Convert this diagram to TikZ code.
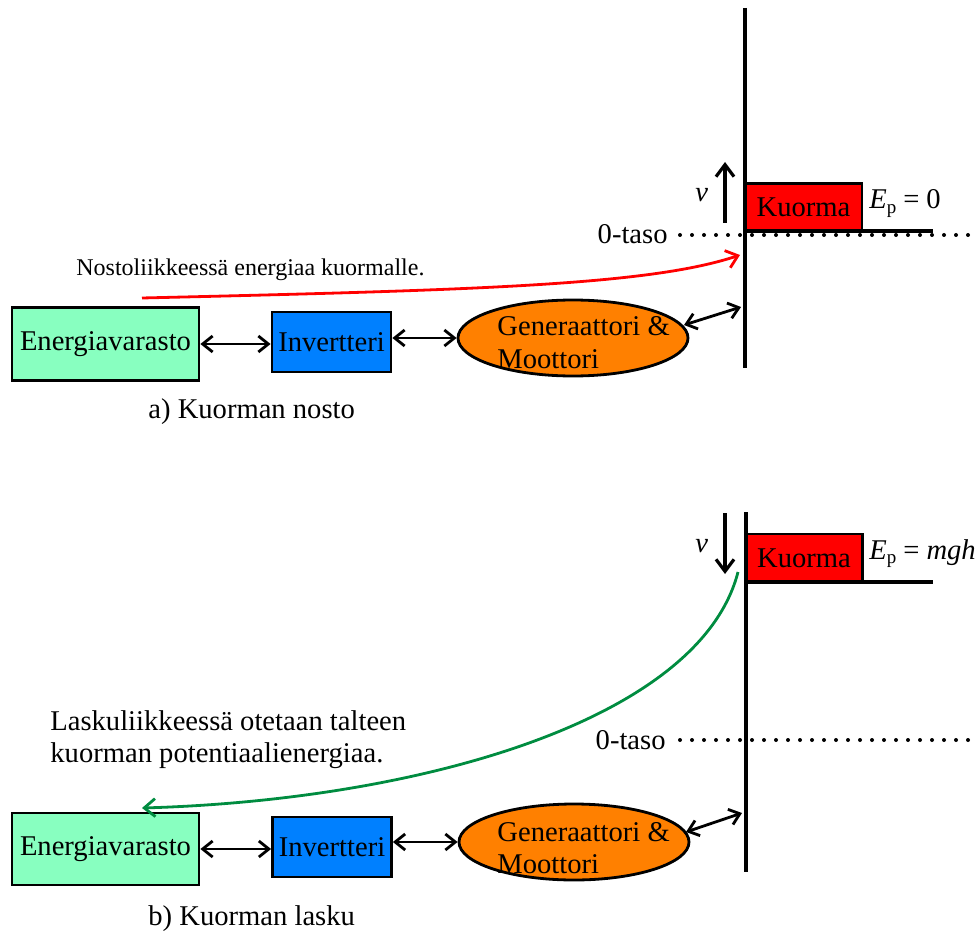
\documentclass[tikz,border=0pt]{standalone}
\usepackage{fontspec}
\setmainfont{Liberation Serif}
\usetikzlibrary{arrows.meta,shapes.geometric}
\definecolor{storegreen}{RGB}{136,255,192}
\definecolor{invblue}{RGB}{0,128,255}
\definecolor{genorange}{RGB}{255,128,0}
\definecolor{loadred}{RGB}{255,0,0}
\definecolor{recgreen}{RGB}{0,140,64}
\begin{document}
\begin{tikzpicture}[x=0.5pt,y=-0.5pt,
  bigfont/.style={font=\fontsize{14.3}{17}\selectfont},
  smallfont/.style={font=\fontsize{12}{14}\selectfont},
  box/.style={draw=black,line width=1.4pt,inner sep=0pt,bigfont},
  genbox/.style={ellipse,draw=black,line width=1.4pt,fill=genorange,
    minimum width=115pt,minimum height=38pt,inner sep=0pt},
  link/.style={line width=1.4pt,{Straight Barb[length=5pt,width=8pt]}-{Straight Barb[length=5pt,width=8pt]}},
  shaft/.style={line width=1.7pt},
  ground/.style={line width=1.7pt},
  dotline/.style={line width=2pt,dash pattern=on 0pt off 6pt,line cap=round},
  txt/.style={bigfont,inner sep=0pt,anchor=base west},
  speed/.style={line width=1.6pt,-{Straight Barb[length=6pt,width=9pt]}},
  flow/.style={line width=1.4pt,-{Straight Barb[length=5.5pt,width=9pt]}}
]
\useasboundingbox (0,0) rectangle (979,936);

% ---------------- a) lifting ----------------
\draw[dotline] (680,235) -- (979,235);
\node[txt,anchor=base east] (zeroA) at (668,243) {0-taso};
\node[box,fill=loadred,minimum width=58.5pt,minimum height=24pt] (loadA) at (803.5,207.5) {Kuorma};
\draw[ground] (745,231) -- (933,231);
\coordinate (shaftTopA) at (745,8);
\coordinate (shaftBotA) at (745,368);
\draw[shaft] (shaftTopA) -- (shaftBotA);
\coordinate (vA1) at (725,223);
\coordinate (vA2) at (725,162);
\draw[speed] (vA1) -- (vA2);
\node[txt,font=\fontsize{14.3}{17}\selectfont\itshape] (vlabA) at (695,202) {v};
\node[txt] (epA) at (869,209) {\textit{E}\raisebox{-0.35ex}{\fontsize{9.5}{10}\selectfont p}\hspace{3.5pt}=\hspace{3.5pt}0};

\node[txt,smallfont] (noteA) at (76,276) {Nostoliikkeessä energiaa kuormalle.};

\node[box,fill=storegreen,minimum width=93.5pt,minimum height=36.5pt] (storeA) at (105.5,344) {Energiavarasto};
\node[box,fill=invblue,minimum width=59.5pt,minimum height=30pt] (invA) at (331.5,342) {Invertteri};
\node[genbox] (genA) at (573,338) {};
\node[txt] (genTxtA1) at (497,335) {Generaattori \&};
\node[txt] (genTxtA2) at (497,368) {Moottori};
\coordinate (shaftHitA) at (741,307);

\draw[link] (storeA.east) -- (invA.west |- storeA.east);
\draw[link] (invA.east |- genA.west) -- (genA.west);
\draw[link] (684,325) -- (shaftHitA);

\coordinate (redStart) at (142,298);
\coordinate (redEnd) at (740,255);
\draw[flow,draw=loadred] (redStart) .. controls (480,290) and (650,285) .. (redEnd);

\node[txt] (capA) at (148,418) {a) Kuorman nosto};

% ---------------- b) lowering ----------------
\draw[dotline] (680,740) -- (979,740);
\node[txt,anchor=base east] (zeroB) at (666,749) {0-taso};
\node[box,fill=loadred,minimum width=58.5pt,minimum height=24pt] (loadB) at (804,558) {Kuorma};
\draw[ground] (746,582) -- (933,582);
\coordinate (shaftTopB) at (746,512);
\coordinate (shaftBotB) at (746,872);
\draw[shaft] (shaftTopB) -- (shaftBotB);
\coordinate (vB1) at (725,513);
\coordinate (vB2) at (725,574);
\draw[speed] (vB1) -- (vB2);
\node[txt,font=\fontsize{14.3}{17}\selectfont\itshape] (vlabB) at (695,552) {v};
\node[txt] (epB) at (869,559) {\textit{E}\raisebox{-0.35ex}{\fontsize{9.5}{10}\selectfont p}\hspace{3.5pt}=\hspace{3.5pt}\textit{mgh}};

\node[txt] (noteB1) at (50,730) {Laskuliikkeessä otetaan talteen};
\node[txt] (noteB2) at (50,762) {kuorman potentiaalienergiaa.};

\node[box,fill=storegreen,minimum width=93.5pt,minimum height=36pt] (storeB) at (105.5,849) {Energiavarasto};
\node[box,fill=invblue,minimum width=59.5pt,minimum height=30pt] (invB) at (332,847) {Invertteri};
\node[genbox] (genB) at (574,842) {};
\node[txt] (genTxtB1) at (497,841) {Generaattori \&};
\node[txt] (genTxtB2) at (497,873) {Moottori};
\coordinate (shaftHitB) at (742,813);

\draw[link] (storeB.east) -- (invB.west |- storeB.east);
\draw[link] (invB.east |- genB.west) -- (genB.west);
\draw[link] (686,832) -- (shaftHitB);

\coordinate (greenStart) at (738,572);
\coordinate (greenEnd) at (142,808);
\draw[flow,draw=recgreen] (greenStart) .. controls (700,720) and (420,800) .. (greenEnd);

\node[txt] (capB) at (148,925) {b) Kuorman lasku};
\end{tikzpicture}
\end{document}
